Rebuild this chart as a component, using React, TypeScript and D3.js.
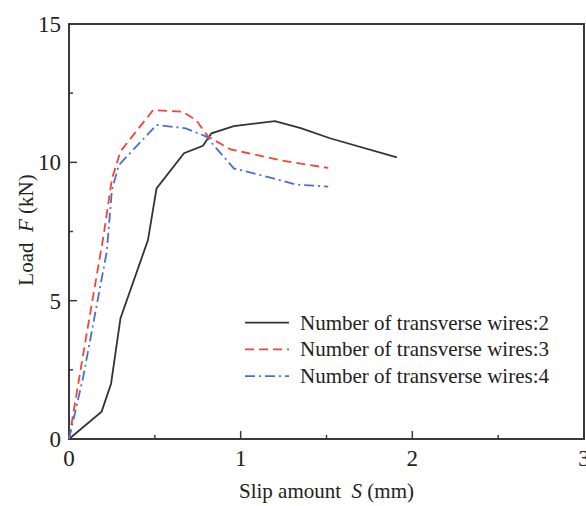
import React from "react";
import * as d3 from "d3";

const xTicks = [0, 1, 2, 3];
const xMinor = [0.5, 1.5, 2.5];
const yTicks = [0, 5, 10, 15];
const yMinor = [2.5, 7.5, 12.5];

const wires2X = [0, 0.19, 0.245, 0.3, 0.46, 0.51, 0.67, 0.78, 0.83, 0.96, 1.2, 1.35, 1.52, 1.91];
const wires2Y = [0, 0.99, 2.0, 4.37, 7.19, 9.06, 10.33, 10.6, 11.05, 11.31, 11.49, 11.24, 10.87, 10.18];

const wires3X = [0, 0.1, 0.2, 0.25, 0.3, 0.49, 0.66, 0.74, 0.81, 0.94, 1.23, 1.35, 1.51];
const wires3Y = [0, 3.7, 7.3, 9.4, 10.4, 11.89, 11.83, 11.53, 10.93, 10.47, 10.08, 9.95, 9.8];

const wires4X = [0, 0.083, 0.22, 0.25, 0.29, 0.51, 0.68, 0.8, 0.96, 1.19, 1.32, 1.51];
const wires4Y = [0, 2.25, 6.77, 9.0, 9.9, 11.35, 11.23, 10.93, 9.78, 9.42, 9.2, 9.12];

const seriesNames = [
  "Number of transverse wires:2",
  "Number of transverse wires:3",
  "Number of transverse wires:4",
];

export default function App() {
  const W = 586, H = 506;
  const L = 69, R = 584, T = 24, B = 439;
  const x = d3.scaleLinear().domain([0, 3]).range([L, R]);
  const y = d3.scaleLinear().domain([0, 15]).range([B, T]);
  const line = d3.line<[number, number]>().x(d => x(d[0])).y(d => y(d[1]));
  const mk = (xs: number[], ys: number[]) => xs.map((v, i) => [v, ys[i]] as [number, number]);

  const series = [
    { d: mk(wires2X, wires2Y), color: "#333333", dash: "none" },
    { d: mk(wires3X, wires3Y), color: "#f2453a", dash: "9,5" },
    { d: mk(wires4X, wires4Y), color: "#4a6fd0", dash: "10,4,2,4" },
  ];
  const font = "'Liberation Serif', 'Times New Roman', serif";
  const frame = "#3a3a3a";

  return (
    <svg width={W} height={H} style={{ position: "absolute", left: 0, top: 0, background: "#fff" }}>
      <rect x={L} y={T} width={R - L} height={B - T} fill="none" stroke={frame} strokeWidth={2} />
      {xTicks.map(t => (
        <g key={"xt" + t}>
          <line x1={x(t)} x2={x(t)} y1={B} y2={B - 8} stroke={frame} strokeWidth={1.5} />
          <text x={x(t)} y={466} textAnchor="middle" fontFamily={font} fontSize={23} fill="#222">{t}</text>
        </g>
      ))}
      {xMinor.map(t => (
        <line key={"xm" + t} x1={x(t)} x2={x(t)} y1={B} y2={B - 4} stroke={frame} strokeWidth={1.5} />
      ))}
      {yTicks.map(t => (
        <g key={"yt" + t}>
          <line x1={L} x2={L + 8} y1={y(t)} y2={y(t)} stroke={frame} strokeWidth={1.5} />
          <text x={61} y={y(t) + 8} textAnchor="end" fontFamily={font} fontSize={23} fill="#222">{t}</text>
        </g>
      ))}
      {yMinor.map(t => (
        <line key={"ym" + t} x1={L} x2={L + 4} y1={y(t)} y2={y(t)} stroke={frame} strokeWidth={1.5} />
      ))}
      {series.map((s, i) => (
        <path key={"s" + i} d={line(s.d) || ""} fill="none" stroke={s.color} strokeWidth={1.8} strokeDasharray={s.dash} />
      ))}
      {series.map((s, i) => {
        const ly = 322.7 + i * 26.7;
        return (
          <g key={"lg" + i}>
            <line x1={245} x2={289} y1={ly} y2={ly} stroke={s.color} strokeWidth={1.8} strokeDasharray={s.dash} />
            <text x={300} y={ly + 7} fontFamily={font} fontSize={21} fill="#222">{seriesNames[i]}</text>
          </g>
        );
      })}
      <text x={(L + R) / 2} y={498} textAnchor="middle" fontFamily={font} fontSize={21} fill="#222" style={{ whiteSpace: "pre" }}>
        {"Slip amount  "}<tspan fontStyle="italic">S</tspan>{" (mm)"}
      </text>
      <text transform={`translate(33, 230) rotate(-90)`} textAnchor="middle" fontFamily={font} fontSize={21} fill="#222" style={{ whiteSpace: "pre" }}>
        {"Load  "}<tspan fontStyle="italic">F</tspan>{" (kN)"}
      </text>
    </svg>
  );
}
